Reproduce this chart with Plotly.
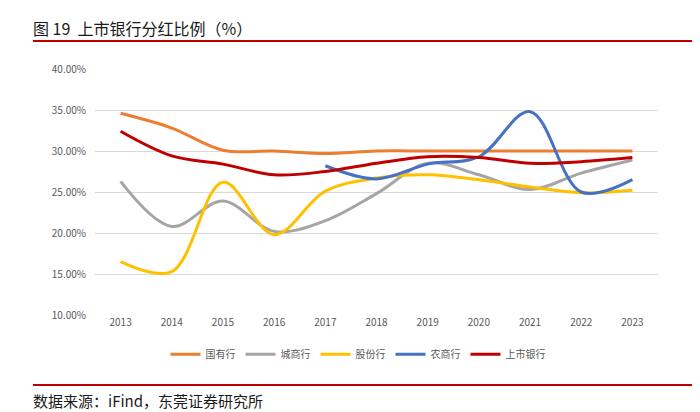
import plotly.graph_objects as go

years = ["2013", "2014", "2015", "2016", "2017", "2018", "2019", "2020", "2021", "2022", "2023"]
guoyou = [34.6, 32.8, 30.1, 30.0, 29.7, 30.0, 30.0, 30.0, 30.0, 30.0, 30.0]
chengshang = [26.3, 20.8, 23.9, 20.2, 21.5, 24.8, 28.5, 27.1, 25.3, 27.3, 28.9]
gufen = [16.5, 15.3, 26.2, 19.8, 25.1, 26.7, 27.1, 26.5, 25.6, 24.9, 25.2]
nongshang = [None, None, None, None, 28.2, 26.6, 28.4, 29.3, 34.8, 25.0, 26.5]
shangshi = [32.4, 29.4, 28.4, 27.1, 27.5, 28.5, 29.3, 29.2, 28.5, 28.7, 29.2]

series = [
    ("国有行", guoyou, "#ED7D31"),
    ("城商行", chengshang, "#A5A5A5"),
    ("股份行", gufen, "#FFC000"),
    ("农商行", nongshang, "#4472C4"),
    ("上市银行", shangshi, "#C00000"),
]

font_family = "Noto Sans CJK SC, Noto Sans, sans-serif"

fig = go.Figure()
for name, vals, color in series:
    fig.add_trace(go.Scatter(
        x=years, y=[v / 100 if v is not None else None for v in vals],
        name=name, mode="lines",
        line=dict(color=color, width=3, shape="spline", smoothing=1.0),
        connectgaps=False,
    ))

fig.update_layout(
    width=700, height=412,
    margin=dict(l=87, r=50, t=61, b=105),
    paper_bgcolor="white", plot_bgcolor="white",
    font=dict(family=font_family, size=10, color="#595959"),
    showlegend=True,
    legend=dict(orientation="h", x=(350 - 87) / 563, xanchor="center", y=-0.16, yanchor="middle",
                font=dict(size=10, color="#595959"), itemwidth=30, tracegroupgap=0),
    xaxis=dict(type="category", range=[-0.5, 10.5], showgrid=False, showline=False, ticks="",
               tickfont=dict(size=10, color="#595959")),
    yaxis=dict(range=[0.10, 0.40], dtick=0.05, tickformat=".2%", showgrid=True,
               gridcolor="#D9D9D9", gridwidth=1, zeroline=False, showline=False,
               tickfont=dict(size=10, color="#595959"), ticklabelstandoff=8),
)

fig.add_annotation(text="图 19  上市银行分红比例（%）", xref="paper", yref="paper",
                   x=(23 - 87) / 563, y=(307 - 20) / 246, xanchor="left", yanchor="middle",
                   showarrow=False, font=dict(size=16, color="#1a1a1a", family=font_family))
fig.add_annotation(text="数据来源：iFind，东莞证券研究所", xref="paper", yref="paper",
                   x=(23 - 87) / 563, y=(307 - 392) / 246, xanchor="left", yanchor="middle",
                   showarrow=False, font=dict(size=15, color="#1a1a1a", family=font_family))
for py in (33, 377):
    fig.add_shape(type="line", xref="paper", yref="paper",
                  x0=(25 - 87) / 563, x1=(700 - 87) / 563,
                  y0=(307 - py) / 246, y1=(307 - py) / 246,
                  line=dict(color="#C00000", width=2))

fig.write_html("out.html")
